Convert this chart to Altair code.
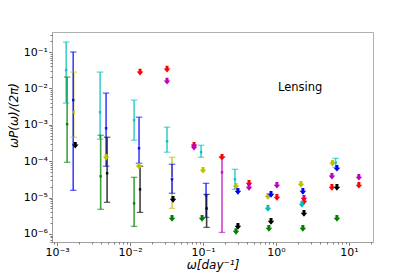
import altair as alt
import pandas as pd

# ---- data ----
C = {"g": "#008000", "k": "#000000", "c": "#00bfbf", "b": "#0000ff",
     "y": "#bfbf00", "r": "#ff0000", "m": "#bf00bf"}

# error bars: colour, omega, lower, value, upper
bar_color = ["c", "g", "y", "b", "c", "g", "b", "k", "c", "g", "b", "k",
             "c", "y", "b", "c", "b", "k", "m", "c", "c"]
bar_x = [1.33e-3, 1.37e-3, 1.68e-3, 1.66e-3, 3.88e-3, 3.95e-3, 4.69e-3, 4.84e-3,
         0.01135, 0.01135, 0.01327, 0.0137, 0.0321, 0.0376, 0.0376, 0.094,
         0.11, 0.112, 0.182, 0.274, 6.58]
bar_lo = [3.94e-3, 9.3e-5, 4.55e-4, 1.58e-5, 4.0e-4, 4.73e-6, 7.24e-5, 7.38e-6,
          3.77e-4, 1.61e-6, 8.75e-5, 3.91e-6, 1.76e-4, 5.04e-6, 1.31e-5, 1.28e-4,
          2.85e-6, 1.51e-6, 1.1e-6, 1.68e-5, 6.8e-5]
bar_y = [0.0319, 1.04e-3, 2.22e-3, 4.76e-3, 2.22e-3, 3.84e-5, 8.05e-4, 4.65e-5,
         1.34e-3, 6.92e-6, 2.26e-4, 1.68e-5, 3.53e-4, 3.38e-5, 3.17e-5, 1.76e-4,
         1.15e-5, 5.04e-6, 4.94e-5, 3.17e-5, 9.0e-5]
bar_hi = [0.188, 0.0205, 0.0281, 0.1, 0.0281, 5.16e-4, 7.43e-3, 4.55e-4,
          4.76e-3, 3.6e-5, 1.62e-3, 7.24e-5, 8.59e-4, 1.28e-4, 8.22e-5, 2.74e-4,
          2.46e-5, 1.22e-5, 1.28e-4, 5.98e-5, 1.2e-4]

# upper limits: colour, omega, value
lim_color = ["k", "y", "y", "k", "g", "r", "r", "m", "r", "m", "y", "g", "r",
             "y", "b", "k", "g", "r", "m", "m", "r", "y", "b", "c", "k", "g",
             "y", "b", "m", "r", "c", "k", "g", "r", "k", "g", "r", "y", "b",
             "m", "m"]
lim_x = [1.77e-3, 4.69e-3, 0.01327, 0.0388, 0.0376, 0.0137, 0.0321, 0.0321,
         0.0753, 0.0753, 0.10, 0.097, 0.182, 0.283, 0.301, 0.301, 0.283,
         0.427, 0.427, 1.03, 1.03, 0.776, 0.855, 0.776, 0.855, 0.80,
         2.2, 2.34, 2.42, 2.42, 2.27, 2.42, 2.34, 5.85, 6.85, 6.85, 13.7,
         5.95, 6.85, 5.85, 13.7]
lim_y = [2.74e-4, 1.28e-4, 7.24e-5, 8.91e-6, 2.67e-6, 0.0281, 0.034, 0.0159,
         2.74e-4, 2.42e-4, 5.61e-5, 2.67e-6, 1.28e-4, 2.04e-5, 1.48e-5, 1.61e-6,
         1.17e-6, 2.46e-5, 1.91e-5, 2.17e-5, 1.01e-5, 1.08e-5, 1.22e-5, 5.04e-6,
         2.21e-6, 1.42e-6, 2.31e-5, 1.48e-5, 9.5e-6, 7.86e-6, 6.5e-6, 3.67e-6,
         1.42e-6, 1.91e-5, 1.91e-5, 2.67e-6, 2.17e-5, 8.75e-5, 6.37e-5, 3.84e-5,
         3.6e-5]

annotation = ["Lensing"]

x_tick_values = [1e-3, 1e-2, 1e-1, 1e0, 1e1]
x_tick_labels = ["10⁻³", "10⁻²", "10⁻¹", "10⁰", "10¹"]
y_tick_values = [1e-6, 1e-5, 1e-4, 1e-3, 1e-2, 1e-1]
y_tick_labels = ["10⁻⁶", "10⁻⁵", "10⁻⁴", "10⁻³", "10⁻²", "10⁻¹"]

bars = pd.DataFrame({"col": [C[c] for c in bar_color], "x": bar_x,
                     "lo": bar_lo, "y": bar_y, "hi": bar_hi})
lims = pd.DataFrame({"col": [C[c] for c in lim_color], "x": lim_x, "y": lim_y})
ann = pd.DataFrame({"t": annotation})

XDOM = [8.5e-4, 21.4]
YDOM = [6.0e-7, 0.355]


def label_expr(values, labels):
    e = "''"
    for v, l in zip(values, labels):
        e = f"abs(datum.value - {v}) < {v} * 0.01 ? '{l}' : ({e})"
    return e


x_minor = [m * 10.0 ** d for d in range(-4, 2) for m in range(2, 10)
           if XDOM[0] <= m * 10.0 ** d <= XDOM[1]]
y_minor = [m * 10.0 ** d for d in range(-7, 0) for m in range(2, 10)
           if YDOM[0] <= m * 10.0 ** d <= YDOM[1]]

xs = alt.Scale(type="log", domain=XDOM, nice=False)
ys = alt.Scale(type="log", domain=YDOM, nice=False)

xaxis = alt.Axis(values=x_tick_values, labelExpr=label_expr(x_tick_values, x_tick_labels),
                 orient="bottom", grid=False, tickSize=3.5, labelPadding=1,
                 title="ω[day⁻¹]", titleFontStyle="italic", titleFontSize=12,
                 titleFontWeight="normal", titleBaseline="alphabetic", titleY=26)
yaxis = alt.Axis(values=y_tick_values, labelExpr=label_expr(y_tick_values, y_tick_labels),
                 orient="left", grid=False, tickSize=3.5, labelPadding=1,
                 title="ωP(ω)/(2π)", titleFontStyle="italic", titleFontSize=12,
                 titleFontWeight="normal", titleAngle=270, titleBaseline="middle",
                 titleAlign="center", titleX=-39, titleY=83)

col = alt.Color("col:N", scale=None, legend=None)
X0 = alt.X("x:Q", scale=xs, axis=None)

rules = alt.Chart(bars).mark_rule(strokeWidth=1.6, opacity=0.75).encode(
    x=alt.X("x:Q", scale=xs, axis=xaxis),
    y=alt.Y("lo:Q", scale=ys, axis=yaxis),
    y2="hi:Q", color=col)

caps_lo = alt.Chart(bars).mark_tick(orient="horizontal", size=6.5, thickness=1.3,
                                    opacity=0.6).encode(
    x=X0, y=alt.Y("lo:Q", scale=ys, axis=None), color=col)
caps_hi = alt.Chart(bars).mark_tick(orient="horizontal", size=6.5, thickness=1.3,
                                    opacity=0.6).encode(
    x=X0, y=alt.Y("hi:Q", scale=ys, axis=None), color=col)
centers = alt.Chart(bars).mark_square(size=6, opacity=0.9).encode(
    x=X0, y=alt.Y("y:Q", scale=ys, axis=None), color=col)

arrow = "M-0.45,-1 L0.45,-1 L0.45,-0.2 L1,-0.2 L0,1 L-1,-0.2 L-0.45,-0.2 Z"
limits = alt.Chart(lims).mark_point(shape=arrow, filled=True, size=44, opacity=1).encode(
    x=X0, y=alt.Y("y:Q", scale=ys, axis=None), color=col)

text = alt.Chart(ann).mark_text(align="left", baseline="alphabetic", fontSize=11.5,
                                font="DejaVu Sans", color="black").encode(
    x=alt.value(226), y=alt.value(59), text="t:N")

minor = alt.Chart(bars).mark_point(opacity=0).encode(
    x=alt.X("x:Q", scale=xs, axis=alt.Axis(values=x_minor, labels=False, domain=False,
                                           grid=False, tickSize=2, orient="bottom",
                                           title="")),
    y=alt.Y("y:Q", scale=ys, axis=alt.Axis(values=y_minor, labels=False, domain=False,
                                           grid=False, tickSize=2, orient="left",
                                           title="")))

chart = alt.layer(rules, minor, caps_lo, caps_hi, centers, limits, text).resolve_axis(
    x="independent", y="independent"
).properties(
    width=321, height=210,
    autosize=alt.AutoSizeParams(type="none"),
    padding={"left": 44, "top": 24, "right": 34, "bottom": 35},
).configure_view(stroke="#b0b0b0", strokeWidth=1).configure_axis(
    labelFont="DejaVu Sans", labelFontSize=11, labelColor="black",
    titleFont="DejaVu Sans", titleColor="black",
    domainColor="#a0a0a0", tickColor="#606060", tickWidth=0.8,
    labelOverlap=False, labelFlush=False, labelBound=False,
)

chart.save("out.html", embed_options={"renderer": "svg", "actions": False})
